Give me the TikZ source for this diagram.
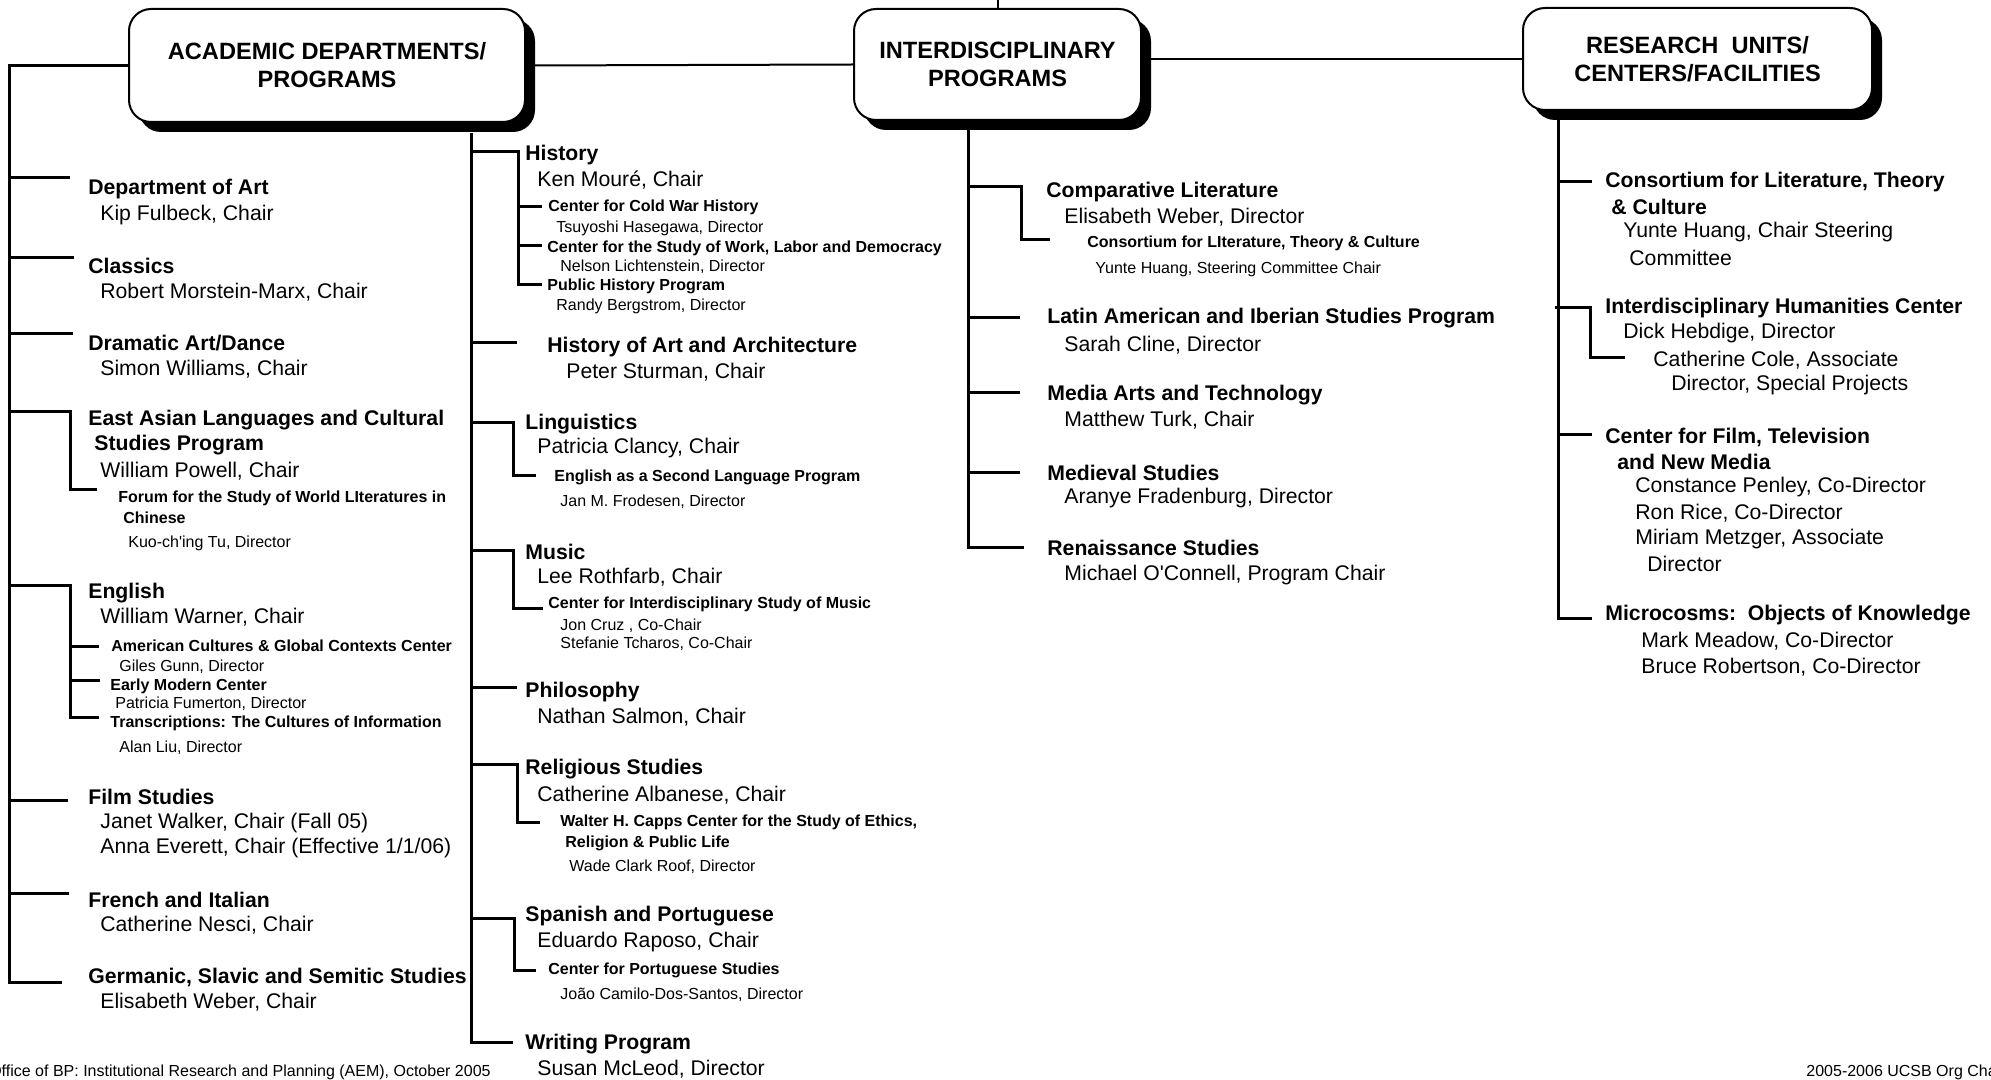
\documentclass[tikz,border=0pt]{standalone}
\usepackage{fontspec}
\setmainfont{Liberation Sans}
\usetikzlibrary{shadows}

\begin{document}
\begin{tikzpicture}[x=0.5pt,y=-0.5pt,
    every node/.style={anchor=west,inner sep=0pt},
    head/.style={draw,line width=1pt,fill=white,rounded corners=11pt,anchor=center,align=center,
      font=\bfseries\fontsize{11.8}{14}\selectfont,
      drop shadow={shadow xshift=5pt,shadow yshift=-5pt,fill=black,opacity=1}},
    ttl/.style={font=\bfseries\fontsize{10.6}{12}\selectfont},
    nm/.style={font=\fontsize{10.6}{12}\selectfont},
    sub/.style={font=\bfseries\fontsize{8}{9.6}\selectfont},
    subnm/.style={font=\fontsize{8}{9.6}\selectfont},
    foot/.style={font=\fontsize{8}{9.6}\selectfont},
    link/.style={line width=1pt},
    branch/.style={line width=1.5pt}]

\useasboundingbox (0,0) rectangle (1991,1080);

% the three unit boxes
\node[head,minimum width=198pt,minimum height=56.5pt] (acad) at (327,65.5) {ACADEMIC DEPARTMENTS/\\PROGRAMS};
\node[head,minimum width=143.5pt,minimum height=55.5pt] (inter) at (997.5,64.5) {INTERDISCIPLINARY\\PROGRAMS};
\node[head,minimum width=174.5pt,minimum height=51pt] (res) at (1697.5,59) {RESEARCH\ \ UNITS/\\CENTERS/FACILITIES};
\coordinate (top) at (997.5,0);

\draw[link] (inter.north) -- (top);
\draw[link] (acad.east) -- (inter.west);
\draw[link] (inter.east |- res.west) -- (res.west);

% academic departments, first column
\draw[branch] (acad.west) -| (9,982) -- (62,982);
\draw[branch] (9,178) -- (70,178);
\draw[branch] (9,258) -- (74,258);
\draw[branch] (9,334) -- (73,334);
\draw[branch] (9,412) -- (70,412) -- (70,489) -- (97,489);
\draw[branch] (9,585) -- (70,585) -- (70,717) -- (99,717);
\draw[branch] (70,646) -- (99,646);
\draw[branch] (70,680) -- (100,680);
\draw[branch] (9,800) -- (68,800);
\draw[branch] (9,893) -- (69,893);

\node[ttl] (art) at (88,189) {Department of Art};
\node[nm] (artc) at (100,215) {Kip Fulbeck, Chair};
\node[ttl] (cla) at (88,266) {Classics};
\node[nm] (clac) at (100,292) {Robert Morstein-Marx, Chair};
\node[ttl] (dra) at (88,343) {Dramatic Art/Dance};
\node[nm] (drac) at (100,369) {Simon Williams, Chair};
\node[ttl] (eal) at (88,420) {East Asian Languages and Cultural};
\node[ttl] (eal2) at (94,445) {Studies Program};
\node[nm] (ealc) at (100,471) {William Powell, Chair};
\node[sub] (forum) at (118,498) {Forum for the Study of World LIteratures in};
\node[sub] (forum2) at (123,518) {Chinese};
\node[subnm] (forumd) at (128,543) {Kuo-ch\textquotesingle ing Tu, Director};
\node[ttl] (eng) at (88,593) {English};
\node[nm] (engc) at (100,617) {William Warner, Chair};
\node[sub] (acgc) at (111,646) {American Cultures \& Global Contexts Center};
\node[subnm] (acgcd) at (119,667) {Giles Gunn, Director};
\node[sub] (emc) at (110,686) {Early Modern Center};
\node[subnm] (emcd) at (115,704) {Patricia Fumerton, Director};
\node[sub] (trans) at (110,723) {Transcriptions: The Cultures of Information};
\node[subnm] (transd) at (119,748) {Alan Liu, Director};
\node[ttl] (film) at (88,797) {Film Studies};
\node[nm] (filmc) at (100,823) {Janet Walker, Chair (Fall 05)};
\node[nm] (filmc2) at (100,848) {Anna Everett, Chair (Effective 1/1/06)};
\node[ttl] (fre) at (88,900) {French and Italian};
\node[nm] (frec) at (100,925) {Catherine Nesci, Chair};
\node[ttl] (ger) at (88,977) {Germanic, Slavic and Semitic Studies};
\node[nm] (gerc) at (100,1002) {Elisabeth Weber, Chair};

% academic departments, second column
\draw[branch] (471,133) -- (471,1042) -- (513,1042);
\draw[branch] (471,152) -- (518,152) -- (518,285) -- (542,285);
\draw[branch] (518,207) -- (542,207);
\draw[branch] (518,246) -- (542,246);
\draw[branch] (471,343) -- (517,343);
\draw[branch] (471,423) -- (513,423) -- (513,475) -- (536,475);
\draw[branch] (471,550) -- (513,550) -- (513,608) -- (543,608);
\draw[branch] (471,687) -- (517,687);
\draw[branch] (471,764) -- (517,764) -- (517,822) -- (540,822);
\draw[branch] (471,918) -- (514,918) -- (514,970) -- (536,970);

\node[ttl] (his) at (525,155) {History};
\node[nm] (hisc) at (537,180) {Ken Mouré, Chair};
\node[sub] (cold) at (548,207) {Center for Cold War History};
\node[subnm] (coldd) at (556,228) {Tsuyoshi Hasegawa, Director};
\node[sub] (work) at (547,248) {Center for the Study of Work, Labor and Democracy};
\node[subnm] (workd) at (560,267) {Nelson Lichtenstein, Director};
\node[sub] (pub) at (547,286) {Public History Program};
\node[subnm] (pubd) at (556,306) {Randy Bergstrom, Director};
\node[ttl] (haa) at (547,347) {History of Art and Architecture};
\node[nm] (haac) at (566,372) {Peter Sturman, Chair};
\node[ttl] (lin) at (525,424) {Linguistics};
\node[nm] (linc) at (537,448) {Patricia Clancy, Chair};
\node[sub] (esl) at (554,477) {English as a Second Language Program};
\node[subnm] (esld) at (560,502) {Jan M. Frodesen, Director};
\node[ttl] (mus) at (525,552) {Music};
\node[nm] (musc) at (537,577) {Lee Rothfarb, Chair};
\node[sub] (cism) at (548,604) {Center for Interdisciplinary Study of Music};
\node[subnm] (cismc) at (560,626) {Jon Cruz , Co-Chair};
\node[subnm] (cismc2) at (560,644) {Stefanie Tcharos, Co-Chair};
\node[ttl] (phi) at (525,692) {Philosophy};
\node[nm] (phic) at (537,717) {Nathan Salmon, Chair};
\node[ttl] (rel) at (525,769) {Religious Studies};
\node[nm] (relc) at (537,795) {Catherine Albanese, Chair};
\node[sub] (capps) at (560,822) {Walter H. Capps Center for the Study of Ethics,};
\node[sub] (capps2) at (565,843) {Religion \& Public Life};
\node[subnm] (cappsd) at (569,867) {Wade Clark Roof, Director};
\node[ttl] (spa) at (525,916) {Spanish and Portuguese};
\node[nm] (spac) at (537,942) {Eduardo Raposo, Chair};
\node[sub] (port) at (548,970) {Center for Portuguese Studies};
\node[subnm] (portd) at (560,995) {João Camilo-Dos-Santos, Director};
\node[ttl] (wri) at (525,1044) {Writing Program};
\node[nm] (wric) at (537,1069) {Susan McLeod, Director};

% interdisciplinary programs
\draw[branch] (968,130) -- (968,547) -- (1024,547);
\draw[branch] (968,187) -- (1021,187) -- (1021,240) -- (1050,240);
\draw[branch] (968,318) -- (1020,318);
\draw[branch] (968,393) -- (1020,393);
\draw[branch] (968,472) -- (1020,472);

\node[ttl] (comp) at (1046,192) {Comparative Literature};
\node[nm] (compd) at (1064,217) {Elisabeth Weber, Director};
\node[sub] (clt) at (1087,243) {Consortium for LIterature, Theory \& Culture};
\node[subnm] (cltc) at (1095,269) {Yunte Huang, Steering Committee Chair};
\node[ttl] (lat) at (1047,318) {Latin American and Iberian Studies Program};
\node[nm] (latd) at (1064,345) {Sarah Cline, Director};
\node[ttl] (med) at (1047,395) {Media Arts and Technology};
\node[nm] (medc) at (1064,420) {Matthew Turk, Chair};
\node[ttl] (mev) at (1047,473) {Medieval Studies};
\node[nm] (mevd) at (1064,498) {Aranye Fradenburg, Director};
\node[ttl] (ren) at (1047,548) {Renaissance Studies};
\node[nm] (renc) at (1064,575) {Michael O\textquotesingle Connell, Program Chair};

% research units
\draw[branch] (1558,120) -- (1558,618) -- (1592,618);
\draw[branch] (1558,182) -- (1592,182);
\draw[branch] (1555,308) -- (1590,308) -- (1590,358) -- (1625,358);
\draw[branch] (1558,435) -- (1592,435);

\node[ttl] (cons) at (1605,182) {Consortium for Literature, Theory};
\node[ttl] (cons2) at (1611,207) {\& Culture};
\node[nm] (consc) at (1623,232) {Yunte Huang, Chair Steering};
\node[nm] (consc2) at (1629,258) {Committee};
\node[ttl] (ihc) at (1605,308) {Interdisciplinary Humanities Center};
\node[nm] (ihcd) at (1623,333) {Dick Hebdige, Director};
\node[nm] (ihca) at (1653,360) {Catherine Cole, Associate};
\node[nm] (ihca2) at (1671,385) {Director, Special Projects};
\node[ttl] (cftv) at (1605,437) {Center for Film, Television};
\node[ttl] (cftv2) at (1617,462) {and New Media};
\node[nm] (cftvd) at (1635,487) {Constance Penley, Co-Director};
\node[nm] (cftvd2) at (1635,513) {Ron Rice, Co-Director};
\node[nm] (cftva) at (1635,539) {Miriam Metzger, Associate};
\node[nm] (cftva2) at (1647,564) {Director};
\node[ttl] (mic) at (1605,615) {Microcosms:\ \ Objects of Knowledge};
\node[nm] (micd) at (1641,641) {Mark Meadow, Co-Director};
\node[nm] (micd2) at (1641,667) {Bruce Robertson, Co-Director};

% footers
\node[foot,anchor=east] (office) at (491,1072) {Office of BP: Institutional Research and Planning (AEM), October 2005};
\node[foot] (chart) at (1806,1072) {2005-2006 UCSB Org Chart};
\end{tikzpicture}
\end{document}
